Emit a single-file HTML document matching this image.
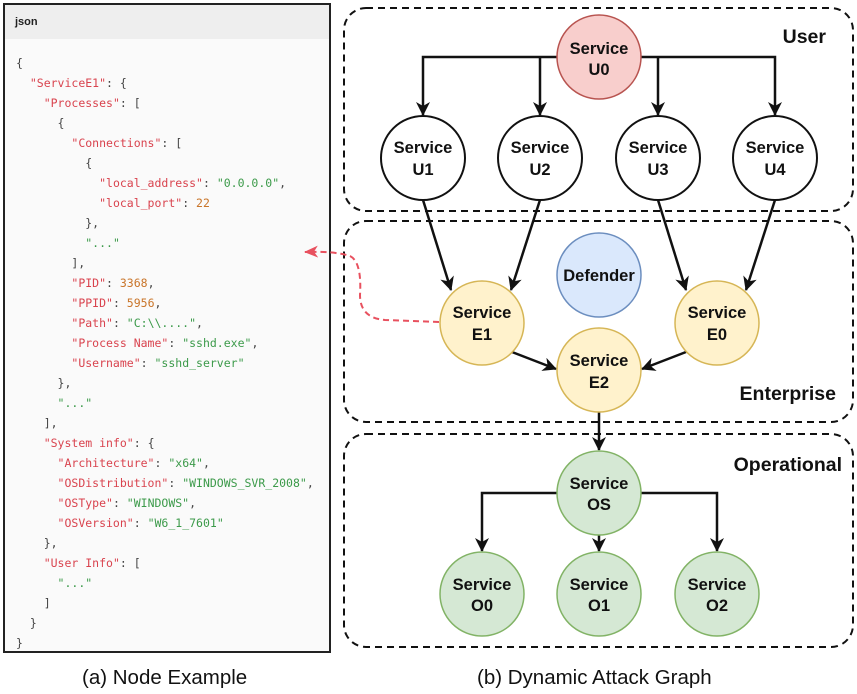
<!DOCTYPE html>
<html><head><meta charset="utf-8"><style>
body{margin:0;width:857px;height:694px;background:#fff;position:relative;overflow:hidden;font-family:"Liberation Sans",sans-serif}
#code{position:absolute;left:3px;top:3px;width:324px;height:646px;border:2px solid #222;background:#fafafa}
#hdr{height:34px;background:#eeeeee;font-size:11px;font-weight:bold;color:#222;line-height:34px;padding-left:10px}
pre{margin:0;position:absolute;left:11px;top:48px;font-family:"DejaVu Sans Mono","Liberation Mono",monospace;font-size:11.5px;line-height:20px;color:#444}
.k{color:#d9434e}.s{color:#3c9a4a}.n{color:#c9752a}
.cap{position:absolute;top:666px;font-size:20.5px;color:#111}
</style></head><body>
<div id="code"><div id="hdr">json</div>
<pre>{
  <span class="k">"ServiceE1"</span>: {
    <span class="k">"Processes"</span>: [
      {
        <span class="k">"Connections"</span>: [
          {
            <span class="k">"local_address"</span>: <span class="s">"0.0.0.0"</span>,
            <span class="k">"local_port"</span>: <span class="n">22</span>
          },
          <span class="s">"..."</span>
        ],
        <span class="k">"PID"</span>: <span class="n">3368</span>,
        <span class="k">"PPID"</span>: <span class="n">5956</span>,
        <span class="k">"Path"</span>: <span class="s">"C:\\...."</span>,
        <span class="k">"Process Name"</span>: <span class="s">"sshd.exe"</span>,
        <span class="k">"Username"</span>: <span class="s">"sshd_server"</span>
      },
      <span class="s">"..."</span>
    ],
    <span class="k">"System info"</span>: {
      <span class="k">"Architecture"</span>: <span class="s">"x64"</span>,
      <span class="k">"OSDistribution"</span>: <span class="s">"WINDOWS_SVR_2008"</span>,
      <span class="k">"OSType"</span>: <span class="s">"WINDOWS"</span>,
      <span class="k">"OSVersion"</span>: <span class="s">"W6_1_7601"</span>
    },
    <span class="k">"User Info"</span>: [
      <span class="s">"..."</span>
    ]
  }
}</pre></div>
<div class="cap" style="left:82px">(a) Node Example</div>
<div class="cap" style="left:477px">(b) Dynamic Attack Graph</div>
<svg width="857" height="694" style="position:absolute;left:0;top:0" font-family="Liberation Sans, sans-serif">
<defs>
<marker id="a" markerWidth="14" markerHeight="14" refX="13" refY="7" orient="auto" markerUnits="userSpaceOnUse"><path d="M0,0 L14,7 L0,14 L4,7 z" fill="#111"/></marker>
<marker id="r" markerWidth="14" markerHeight="12" refX="13" refY="6" orient="auto" markerUnits="userSpaceOnUse"><path d="M0,0 L14,6 L0,12 L4,6 z" fill="#e8515f"/></marker>
</defs>
<g fill="none" stroke="#111" stroke-width="2" stroke-dasharray="7,5">
<rect x="344" y="8" width="509" height="203" rx="22"/>
<rect x="344" y="221" width="509" height="201" rx="22"/>
<rect x="344" y="434" width="509" height="213" rx="22"/>
</g>
<g fill="none" stroke="#111" stroke-width="2.5" marker-end="url(#a)">
<path d="M557,57 H423 V115"/><path d="M540,57 V115"/>
<path d="M641,57 H775 V115"/><path d="M658,57 V115"/>
<path d="M423,200 L451,290"/><path d="M540,200 L511,290"/>
<path d="M658,200 L686,290"/><path d="M775,200 L746,290"/>
<path d="M512,352 L556,369"/><path d="M686,352 L642,369"/>
<path d="M599,412 V450"/>
<path d="M557,493 H482 V551"/><path d="M641,493 H717 V551"/><path d="M599,535 V551"/>
</g>
<path d="M439,322 L385,320 Q360,318 360,295 Q362,262 350,256 Q335,251 305,252" fill="none" stroke="#e8515f" stroke-width="2" stroke-dasharray="6,4" marker-end="url(#r)"/>
<g stroke-width="1.5">
<circle cx="599" cy="57" r="42" fill="#f8cecc" stroke="#b85450"/>
<circle cx="423" cy="158" r="42" fill="#fff" stroke="#111" stroke-width="2"/>
<circle cx="540" cy="158" r="42" fill="#fff" stroke="#111" stroke-width="2"/>
<circle cx="658" cy="158" r="42" fill="#fff" stroke="#111" stroke-width="2"/>
<circle cx="775" cy="158" r="42" fill="#fff" stroke="#111" stroke-width="2"/>
<circle cx="599" cy="275" r="42" fill="#dae8fc" stroke="#6c8ebf"/>
<circle cx="482" cy="323" r="42" fill="#fff2cc" stroke="#d6b656"/>
<circle cx="717" cy="323" r="42" fill="#fff2cc" stroke="#d6b656"/>
<circle cx="599" cy="370" r="42" fill="#fff2cc" stroke="#d6b656"/>
<circle cx="599" cy="493" r="42" fill="#d5e8d4" stroke="#82b366"/>
<circle cx="482" cy="594" r="42" fill="#d5e8d4" stroke="#82b366"/>
<circle cx="599" cy="594" r="42" fill="#d5e8d4" stroke="#82b366"/>
<circle cx="717" cy="594" r="42" fill="#d5e8d4" stroke="#82b366"/>
</g>
<g font-size="16.5" font-weight="bold" fill="#111" text-anchor="middle">
<text x="599" y="54">Service</text><text x="599" y="75">U0</text>
<text x="423" y="153">Service</text><text x="423" y="175">U1</text>
<text x="540" y="153">Service</text><text x="540" y="175">U2</text>
<text x="658" y="153">Service</text><text x="658" y="175">U3</text>
<text x="775" y="153">Service</text><text x="775" y="175">U4</text>
<text x="599" y="281">Defender</text>
<text x="482" y="318">Service</text><text x="482" y="340">E1</text>
<text x="717" y="318">Service</text><text x="717" y="340">E0</text>
<text x="599" y="366">Service</text><text x="599" y="388">E2</text>
<text x="599" y="489">Service</text><text x="599" y="510">OS</text>
<text x="482" y="590">Service</text><text x="482" y="611">O0</text>
<text x="599" y="590">Service</text><text x="599" y="611">O1</text>
<text x="717" y="590">Service</text><text x="717" y="611">O2</text>
</g>
<g font-size="19.5" font-weight="bold" fill="#111" text-anchor="end">
<text x="826" y="43">User</text>
<text x="836" y="400">Enterprise</text>
<text x="842" y="471">Operational</text>
</g>
</svg>
</body></html>
